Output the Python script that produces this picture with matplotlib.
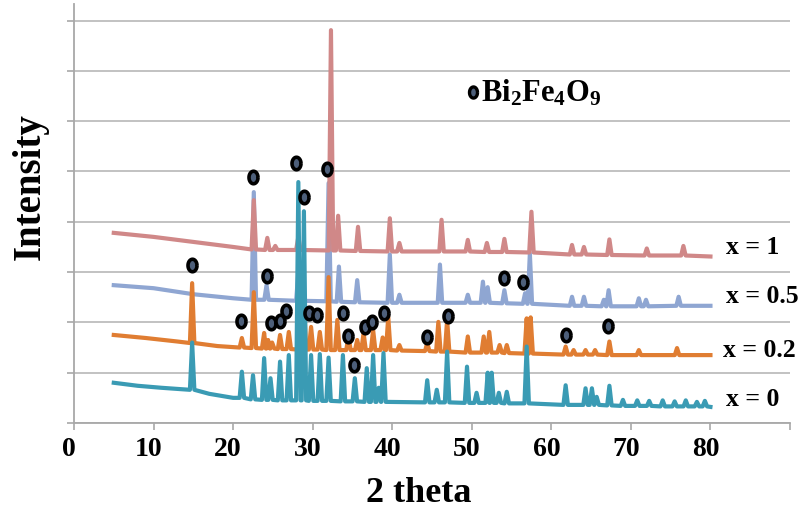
import numpy as np
import matplotlib
matplotlib.use('Agg')
import matplotlib.pyplot as plt
from matplotlib.path import Path
from matplotlib.transforms import ScaledTranslation

# XRD patterns, intensity in gridline units (a.u.)
# baseline anchors (2theta, level) and peaks (2theta, foot, top)
base_x0 = [(5, 0.80), (8, 0.74), (11, 0.70), (17, 0.58), (20, 0.50), (80, 0.32)]
peaks_x0 = [(14.85, 0.66, 1.60), (21.1, 0.50, 1.02), (22.5, 0.47, 0.95), (23.9, 0.46, 1.29),
            (24.7, 0.46, 0.89), (25.9, 0.45, 1.22), (27.0, 0.45, 1.35), (28.2, 0.45, 4.79),
            (28.9, 0.45, 4.21), (29.8, 0.44, 1.35), (30.9, 0.44, 1.37), (32.0, 0.44, 1.30),
            (33.8, 0.43, 1.35), (35.3, 0.43, 0.89), (36.8, 0.42, 1.09), (37.6, 0.42, 1.35),
            (38.3, 0.42, 0.70), (38.9, 0.42, 1.39), (44.4, 0.41, 0.85), (45.6, 0.41, 0.66),
            (46.9, 0.41, 1.42), (49.4, 0.40, 1.12), (50.6, 0.40, 0.60), (52.0, 0.40, 1.00),
            (52.5, 0.40, 1.00), (53.4, 0.40, 0.60), (54.4, 0.39, 0.62), (56.9, 0.39, 1.52),
            (61.8, 0.36, 0.75), (64.3, 0.36, 0.69), (65.1, 0.36, 0.69), (65.7, 0.36, 0.52),
            (67.3, 0.35, 0.74), (69.0, 0.34, 0.46), (70.8, 0.34, 0.45), (72.3, 0.34, 0.44),
            (74.0, 0.33, 0.45), (75.5, 0.33, 0.43), (76.9, 0.33, 0.45), (78.3, 0.33, 0.42),
            (79.3, 0.33, 0.44)]

base_x02 = [(5, 1.75), (9, 1.69), (13, 1.62), (18, 1.53), (80, 1.35)]
peaks_x02 = [(14.85, 1.59, 2.78), (21.1, 1.50, 1.69), (22.6, 1.49, 2.60), (23.9, 1.48, 1.79),
             (24.4, 1.48, 1.65), (24.9, 1.48, 1.60), (25.9, 1.47, 1.75), (27.0, 1.47, 1.81),
             (28.35, 1.46, 3.10), (28.9, 1.46, 2.50), (29.8, 1.46, 1.91), (30.9, 1.46, 1.81),
             (32.0, 1.45, 2.90), (33.1, 1.45, 2.05), (34.5, 1.45, 1.72), (35.6, 1.45, 1.65),
             (36.4, 1.45, 1.79), (37.6, 1.45, 1.85), (38.8, 1.45, 1.70), (39.5, 1.45, 2.11),
             (40.9, 1.44, 1.55), (44.4, 1.43, 1.59), (45.8, 1.42, 2.01), (46.9, 1.42, 2.05),
             (49.5, 1.40, 1.72), (51.5, 1.40, 1.72), (52.2, 1.40, 1.81), (53.5, 1.40, 1.55),
             (54.4, 1.39, 1.55), (56.9, 1.38, 2.08), (57.4, 1.38, 2.10), (61.8, 1.36, 1.52),
             (62.8, 1.36, 1.45), (64.3, 1.36, 1.45), (65.5, 1.36, 1.45), (67.3, 1.35, 1.62),
             (71.0, 1.35, 1.45), (75.8, 1.35, 1.49)]

base_x05 = [(5, 2.74), (10, 2.68), (15, 2.56), (20, 2.48), (80, 2.33)]
peaks_x05 = [(22.6, 2.45, 4.59), (24.2, 2.45, 2.74), (28.2, 2.43, 3.00), (32.0, 2.42, 4.77),
             (33.3, 2.41, 3.11), (35.6, 2.40, 2.84), (39.7, 2.39, 3.35), (40.9, 2.39, 2.55),
             (46.0, 2.39, 3.15), (49.5, 2.39, 2.55), (51.4, 2.39, 2.81), (52.0, 2.39, 2.70),
             (54.1, 2.38, 2.64), (56.7, 2.37, 2.58), (57.3, 2.37, 3.37), (62.6, 2.33, 2.51),
             (64.1, 2.33, 2.51), (66.6, 2.32, 2.45), (67.2, 2.32, 2.64), (71.0, 2.32, 2.48),
             (71.9, 2.32, 2.45), (76.0, 2.33, 2.51)]

base_x1 = [(5, 3.78), (10, 3.70), (15, 3.60), (20, 3.50), (80, 3.31)]
peaks_x1 = [(22.6, 3.45, 4.43), (24.3, 3.44, 3.68), (25.3, 3.44, 3.52), (28.2, 3.44, 3.70),
            (32.3, 3.43, 7.81), (33.2, 3.43, 4.12), (35.7, 3.42, 3.90), (39.7, 3.41, 4.07),
            (40.9, 3.41, 3.58), (46.2, 3.41, 4.04), (49.5, 3.41, 3.64), (51.9, 3.40, 3.58),
            (54.1, 3.40, 3.66), (57.5, 3.39, 4.20), (62.6, 3.35, 3.54), (64.1, 3.35, 3.50),
            (67.3, 3.34, 3.65), (72.0, 3.33, 3.47), (76.6, 3.33, 3.52)]

# Bi2Fe4O9 markers
mark_theta = [22.5, 27.9, 28.9, 31.8, 14.8, 24.2, 21.0, 24.7, 25.9, 26.7, 29.6, 30.6,
              33.8, 34.4, 35.2, 36.6, 37.4, 39.0, 44.4, 47.0, 54.0, 56.4, 61.8, 67.1]
mark_y = [4.90, 5.16, 4.50, 5.05, 3.14, 2.93, 2.03, 1.99, 2.03, 2.23, 2.19, 2.14,
          2.18, 1.72, 1.15, 1.90, 2.01, 2.18, 1.70, 2.13, 2.88, 2.81, 1.74, 1.93]

labels = ['x = 0', 'x = 0.2', 'x = 0.5', 'x = 1']
label_pos = [(81.9, 0.46), (81.6, 1.45), (81.9, 2.51), (82.0, 3.48)]
colors = ['#3a9bb4', '#e07d32', '#8fa6d2', '#d08888']
zorders = [5, 4, 2, 3]


def trace(base, peaks, hw=0.28):
    pts = list(base)
    for pos, foot, top in peaks:
        pts += [(pos - hw, foot), (pos, top), (pos + hw, foot)]
    pts.sort()
    return np.array(pts).T


plt.rcParams['font.family'] = 'Liberation Serif'
plt.rcParams['font.weight'] = 'bold'
plt.rcParams['mathtext.fontset'] = 'custom'
plt.rcParams['mathtext.rm'] = 'Liberation Serif:bold'
plt.rcParams['mathtext.it'] = 'Liberation Serif:bold'
plt.rcParams['mathtext.bf'] = 'Liberation Serif:bold'

fig = plt.figure(figsize=(8.05, 5.17), dpi=100)
ax = fig.add_axes([74 / 805, 94 / 517, 716 / 805, 419 / 517])

series = [(base_x0, peaks_x0), (base_x02, peaks_x02), (base_x05, peaks_x05), (base_x1, peaks_x1)]
for (base, peaks), c, z in zip(series, colors, zorders):
    tx, ty = trace(base, peaks)
    ax.plot(tx, ty, color=c, lw=3.0, zorder=z, solid_joinstyle='round')

# elliptical marker
t = np.linspace(0, 2 * np.pi, 40)
ell = Path(np.column_stack([0.72 * np.cos(t), np.sin(t)]))
ax.plot(mark_theta, mark_y, ls='none', marker=ell, ms=9, mfc='#4d5f7a',
        mec='black', mew=2.6, zorder=6)
ax.plot([50.2], [6.58], ls='none', marker=ell, ms=8, mfc='#4d5f7a',
        mec='black', mew=2.4, zorder=6)
ax.text(51.1, 6.55, r'Bi$_2$Fe$_4$O$_9$', fontsize=22, fontweight='bold',
        va='center', ha='left')

for lab, (lx, ly) in zip(labels, label_pos):
    ax.text(lx, ly, lab, fontsize=18.5, fontweight='bold', va='center', ha='left',
            clip_on=False)

ax.set_xlim(0, 90)
ax.set_ylim(0, 8.33)
ax.set_xticks(range(0, 91, 10))
ax.set_xticklabels([str(v) for v in range(0, 81, 10)] + [''])
ax.set_yticks(range(0, 9))
ax.set_yticklabels([])
ax.yaxis.grid(True, color='#bdbdbd', lw=1.3)
ax.set_axisbelow(True)
for s in ['top', 'right']:
    ax.spines[s].set_visible(False)
for s in ['left', 'bottom']:
    ax.spines[s].set_color('#a8a8a8')
    ax.spines[s].set_linewidth(1.3)
ax.tick_params(axis='both', direction='out', length=5, width=1.2, color='#a8a8a8')
ax.tick_params(axis='x', labelsize=20, pad=5)
for lbl in ax.get_xticklabels():
    lbl.set_fontweight('bold')
    lbl.set_transform(lbl.get_transform() + ScaledTranslation(-0.05, 0, fig.dpi_scale_trans))

fig.text(419 / 805, 1 - 493 / 517, '2 theta', fontsize=26, fontweight='bold',
         ha='center', va='center')
fig.text(30 / 805, 1 - 187 / 517, 'Intensity', fontsize=28, fontweight='bold',
         ha='center', va='center', rotation=90)

fig.savefig('out.png', dpi=100)
